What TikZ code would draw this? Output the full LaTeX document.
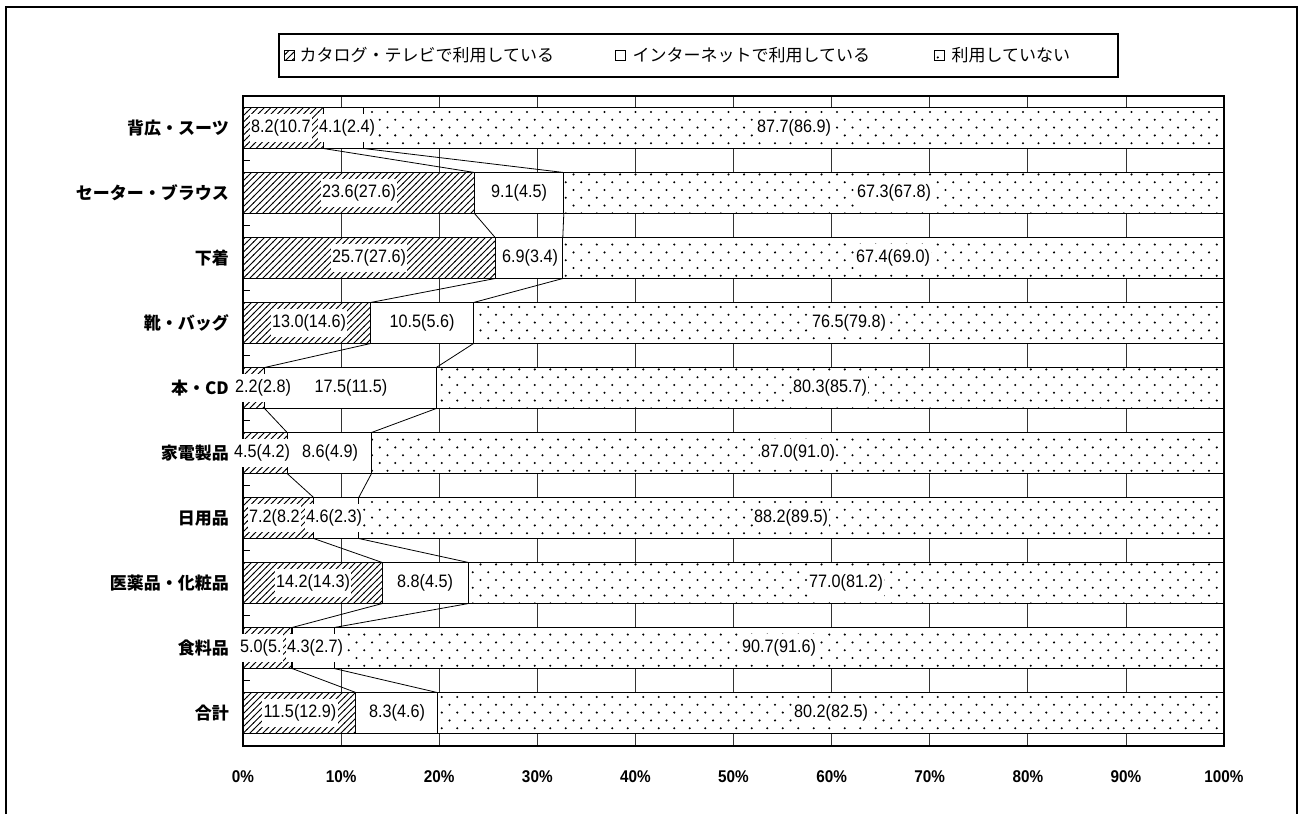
\documentclass[tikz,border=0pt]{standalone}
\usepackage{fontspec}
\setmainfont{Liberation Sans}
\newfontfamily\jpfont{Noto Sans CJK JP}
\newfontfamily\numfont[FakeStretch=0.9]{Liberation Sans}
\usetikzlibrary{patterns,positioning}
% Fill patterns of the bars
\pgfdeclarepatternformonly{barhatch}{\pgfqpoint{-1pt}{-1pt}}{\pgfqpoint{7.5pt}{7.5pt}}{\pgfqpoint{6.5pt}{6.5pt}}{%
  \pgfsetlinewidth{1.05pt}%
  \pgfpathmoveto{\pgfqpoint{-0.5pt}{-0.5pt}}%
  \pgfpathlineto{\pgfqpoint{7pt}{7pt}}%
  \pgfusepath{stroke}}
\pgfdeclarepatternformonly{bardots}{\pgfqpoint{-1.3pt}{-1.3pt}}{\pgfqpoint{9.2pt}{9.2pt}}{\pgfqpoint{15.5pt}{15.6pt}}{%
  \pgfpathcircle{\pgfqpoint{0pt}{0pt}}{1.15pt}%
  \pgfpathcircle{\pgfqpoint{7.75pt}{7.8pt}}{1.15pt}%
  \pgfusepath{fill}}
\begin{document}
\begin{tikzpicture}[x=1pt,y=-1pt,
    segbar/.style={draw,line width=1.2pt,preaction={fill=white}},
    catalog/.style={segbar,pattern=barhatch},
    net/.style={segbar,fill=white},
    nouse/.style={segbar,pattern=bardots},
    vlabel/.style={fill=white,inner xsep=1.5pt,inner ysep=0pt,minimum height=28pt,font=\numfont\fontsize{18}{18}\selectfont},
    catname/.style={anchor=east,inner sep=0pt,font=\jpfont\bfseries\fontsize{17}{17}\selectfont},
    leg/.style={anchor=west,inner sep=0pt,font=\jpfont\fontsize{17}{17}\selectfont},
    legmark/.style={draw,line width=1pt,minimum size=10pt,inner sep=0pt},
    gridline/.style={line width=0.8pt,black!80},
    serline/.style={line width=0.8pt}]
  \useasboundingbox (0,0) rectangle (1300,814);
  % Frame
  \draw[line width=1.2pt] (6,814) -- (6,7) -- (1297,7) -- (1297,814);
  % Legend
  \node[draw,line width=1.2pt,minimum width=839pt,minimum height=43pt] (legend) at (698.5,55.5) {};
  \node[legmark,pattern=barhatch] (M1) at (289,55) {};
  \node[leg,right=5pt of M1] (T1) {カタログ・テレビで利用している};
  \node[legmark] (M2) at (620,55) {};
  \node[leg,right=7pt of M2] (T2) {インターネットで利用している};
  \node[legmark,pattern=bardots] (M3) at (939,55) {};
  \node[leg,right=7pt of M3] (T3) {利用していない};
  % Gridlines and axis
  \foreach \p in {10,20,...,90} \draw[gridline] ({243+9.81*\p},96) -- ({243+9.81*\p},746);
  \foreach \p in {0,10,...,100} \node[font=\numfont\bfseries\fontsize{17}{17}\selectfont] (X\p) at ({243+9.81*\p},777) {\p\%};
  \foreach \k in {1,...,9} \draw[line width=0.8pt] (243,{95.5+65*\k}) -- ++(7,0);
  % Bars
  \foreach \i/\a/\b in {1/8.2/12.3, 2/23.6/32.7, 3/25.7/32.6, 4/13.0/23.5, 5/2.2/19.7,
      6/4.5/13.1, 7/7.2/11.8, 8/14.2/23.0, 9/5.0/9.3, 10/11.5/19.8}{
    \pgfmathsetmacro\yt{107.5+65*(\i-1)}
    \pgfmathsetmacro\yb{\yt+41}
    \pgfmathsetmacro\xa{243+9.81*\a}
    \pgfmathsetmacro\xb{243+9.81*\b}
    \draw[catalog] (243,\yt) rectangle (\xa,\yb);
    \draw[net] (\xa,\yt) rectangle (\xb,\yb);
    \draw[nouse] (\xb,\yt) rectangle (1224,\yb);
    \coordinate (At\i) at (\xa,\yt); \coordinate (Ab\i) at (\xa,\yb);
    \coordinate (Bt\i) at (\xb,\yt); \coordinate (Bb\i) at (\xb,\yb);
  }
  \draw[line width=1.2pt] (243,96) rectangle (1224,746);
  % Series lines
  \foreach \i [evaluate=\i as \j using int(\i+1)] in {1,...,9}{
    \draw[serline] (Ab\i) -- (At\j);
    \draw[serline] (Bb\i) -- (Bt\j);
  }
  % Categories
  \foreach \i/\t in {1/背広・スーツ, 2/セーター・ブラウス, 3/下着, 4/靴・バッグ, 5/本・CD,
      6/家電製品, 7/日用品, 8/医薬品・化粧品, 9/食料品, 10/合計}
    \node[catname] (C\i) at (229,{128+65*(\i-1)}) {\t};
  % Values
  \node[vlabel,anchor=west] (V1a) at (249.5,128) {8.2(10.7};
  \node[vlabel,anchor=west] (V7a) at (247.5,518) {7.2(8.2};
  \node[vlabel,anchor=west] (V9a) at (238.5,648) {5.0(5.};
  \foreach \i/\x/\t [count=\n] in {1/347/4.1(2.4), 1/794/87.7(86.9),
      2/359/23.6(27.6), 2/519/9.1(4.5), 2/894/67.3(67.8),
      3/369/25.7(27.6), 3/530/6.9(3.4), 3/893/67.4(69.0),
      4/309/13.0(14.6), 4/422/10.5(5.6), 4/849/76.5(79.8),
      5/263/2.2(2.8), 5/351/17.5(11.5), 5/830/80.3(85.7),
      6/262/4.5(4.2), 6/330/8.6(4.9), 6/798/87.0(91.0),
      7/334/4.6(2.3), 7/791/88.2(89.5),
      8/313/14.2(14.3), 8/425/8.8(4.5), 8/846/77.0(81.2),
      9/315/4.3(2.7), 9/779/90.7(91.6),
      10/300/11.5(12.9), 10/397/8.3(4.6), 10/831/80.2(82.5)}
    \node[vlabel] (V\n) at (\x,{128+65*(\i-1)}) {\t};
\end{tikzpicture}
\end{document}
